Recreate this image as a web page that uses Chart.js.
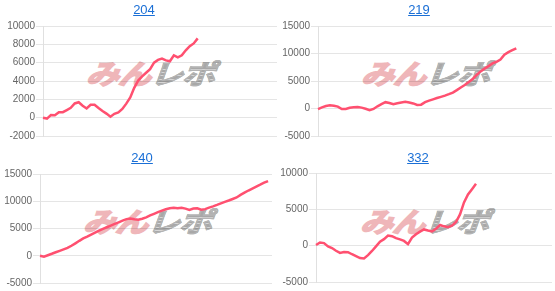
<!DOCTYPE html>
<html>
<head>
<meta charset="utf-8">
<script src="https://cdn.jsdelivr.net/npm/chart.js@4.4.0/dist/chart.umd.min.js"></script>
<style>
  body { margin: 0; background: #fff; width: 555px; height: 291px; overflow: hidden; position: relative; font-family: "Liberation Sans", Arial, sans-serif; }
  .panel { position: absolute; width: 280px; height: 145px; }
  .panel canvas { position: absolute; left: 0; top: 0; z-index: 2; }
  .title { position: absolute; top: 2px; width: 60px; text-align: center; font-size: 13px; line-height: 15px; z-index: 3; }
  .title a { color: #1a6fd6; text-decoration: underline; }
  .mark { position: absolute; left: 90px; width: 150px; height: 32px; z-index: 1; white-space: nowrap;
          font-family: "Noto Sans CJK JP", sans-serif; font-weight: bold; font-size: 33px; line-height: 32px;
          letter-spacing: -1px; transform: skewX(-20deg) scaleY(0.82); transform-origin: left center; }
  .mark .a { color: #efb6b9; -webkit-text-stroke: 2px #efb6b9; }
  .mark .b { background: repeating-linear-gradient(to bottom, #a8a8a8 0 3px, #d6d6d6 3px 4px);
             -webkit-background-clip: text; background-clip: text; color: transparent;
             -webkit-text-stroke: 1.5px #b4b4b4; }
</style>
</head>
<body>

<div class="panel" id="p1" style="left:0;top:0">
  <div class="title" style="left:114px"><a href="#">204</a></div>
  <div class="mark" style="top:57px"><span class="a">みん</span><span class="b">レポ</span></div>
  <canvas id="c1"></canvas>
</div>
<div class="panel" id="p2" style="left:275px;top:0">
  <div class="title" style="left:114px"><a href="#">219</a></div>
  <div class="mark" style="top:57px"><span class="a">みん</span><span class="b">レポ</span></div>
  <canvas id="c2"></canvas>
</div>
<div class="panel" id="p3" style="left:0;top:145px;height:146px">
  <div class="title" style="left:112px;top:5px"><a href="#">240</a></div>
  <div class="mark" style="top:60px;left:87px"><span class="a">みん</span><span class="b">レポ</span></div>
  <canvas id="c3"></canvas>
</div>
<div class="panel" id="p4" style="left:275px;top:145px;height:146px">
  <div class="title" style="left:113px;top:5px"><a href="#">332</a></div>
  <div class="mark" style="top:60px;left:89px"><span class="a">みん</span><span class="b">レポ</span></div>
  <canvas id="c4"></canvas>
</div>

<script>
// x slots (days) shared by all four charts
const days = Array.from({length: 60}, (_, i) => i + 1);

// machine 204
const diff204 = [0, -100, 280, 260, 600, 600, 830, 1070, 1550, 1680,
  1300, 1000, 1400, 1400, 1050, 720, 440, 100, 420, 580,
  950, 1530, 2200, 3250, 4050, 4500, 4900, 5300, 6000, 6300,
  6450, 6250, 6150, 6800, 6580, 6800, 7350, 7800, 8100, 8650];

// machine 219
const diff219 = [-100, 200, 450, 600, 500, 350, -100, -100, 120, 230,
  280, 160, -50, -300, -80, 400, 800, 1150, 1000, 780,
  950, 1100, 1220, 1100, 920, 650, 700, 1150, 1420, 1670,
  1900, 2120, 2330, 2600, 2900, 3350, 3830, 4280, 4800, 5350,
  6100, 6750, 7250, 7700, 8200, 8500, 8900, 9800, 10250, 10600, 10950];

// machine 240
const diff240 = [0, -170, 100, 360, 640, 900, 1160, 1430, 1830, 2280,
  2740, 3170, 3520, 3890, 4250, 4600, 4940, 5230, 5530, 5840,
  6130, 6430, 6720, 6850, 6700, 6600, 6800, 7050, 7400, 7700,
  8000, 8280, 8540, 8720, 8800, 8700, 8820, 8650, 8400, 8650,
  8700, 8450, 8550, 8830, 9070, 9330, 9610, 9890, 10140, 10420,
  10700, 11170, 11580, 11970, 12320, 12680, 13030, 13400, 13700];

// machine 332
const diff332 = [90, 430, 350, -100, -330, -700, -1000, -870, -900, -1180,
  -1430, -1700, -1750, -1300, -730, -100, 560, 900, 1400, 1300,
  1030, 860, 650, 200, 1100, 1570, 1930, 2230, 2080, 1950,
  2340, 2840, 2660, 2540, 2750, 3250, 4300, 5950, 7050, 7780, 8510];

// y axis ranges (min, max, step)
const range204 = [-2000, 10000, 2000];
const range219 = [-5000, 15000, 5000];
const range240 = [-5000, 15000, 5000];
const range332 = [-5000, 10000, 5000];

function makeChart(id, values, range, box) {
  const canvas = document.getElementById(id);
  canvas.width = 280;
  canvas.height = box.h;
  new Chart(canvas.getContext('2d'), {
    type: 'line',
    data: {
      labels: days,
      datasets: [{
        data: values,
        borderColor: '#ff5070',
        borderWidth: 2.5,
        pointRadius: 0,
        tension: 0,
        fill: false
      }]
    },
    options: {
      responsive: false,
      animation: false,
      devicePixelRatio: 1,
      layout: {
        padding: { left: 0, top: box.top, right: 280 - box.right, bottom: box.h - box.bottom }
      },
      plugins: { legend: { display: false }, tooltip: { enabled: false } },
      scales: {
        x: { display: false },
        y: {
          min: range[0],
          max: range[1],
          afterFit: function(scale) { scale.width = box.left; },
          grid: { color: 'rgba(0,0,0,0.1)', tickLength: 7 },
          border: { color: 'rgba(0,0,0,0.12)' },
          ticks: {
            stepSize: range[2],
            padding: 1,
            color: '#666',
            font: { family: '"Liberation Sans", Arial, sans-serif', size: 10 },
            callback: function(value) { return String(value); }
          }
        }
      }
    }
  });
}

makeChart('c1', diff204, range204, { left: 43, top: 26, right: 277, bottom: 136, h: 145 });
makeChart('c2', diff219, range219, { left: 43, top: 26, right: 277, bottom: 136, h: 145 });
makeChart('c3', diff240, range240, { left: 40, top: 29, right: 272, bottom: 138, h: 146 });
makeChart('c4', diff332, range332, { left: 41, top: 28, right: 277, bottom: 137, h: 146 });
</script>
</body>
</html>
